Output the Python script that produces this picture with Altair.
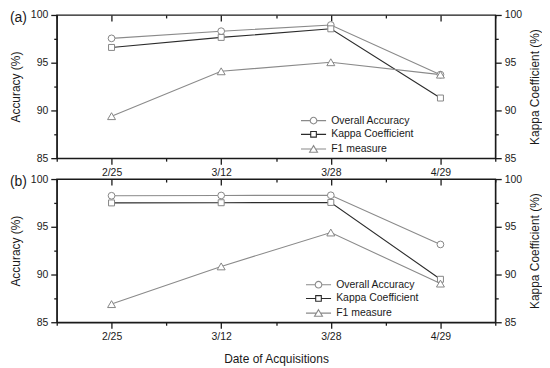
import json
import altair as alt
import pandas as pd

# ---------------- data ----------------
dates = ["2/25", "3/12", "3/28", "4/29"]
series_names = ["Overall Accuracy", "Kappa Coefficient", "F1 measure"]
panel_tags = ["(a)", "(b)"]

a_overall = [97.55, 98.3, 98.95, 93.75]
a_kappa = [96.6, 97.65, 98.55, 91.3]
a_f1 = [89.4, 94.1, 95.05, 93.75]

b_overall = [98.25, 98.28, 98.3, 93.15]
b_kappa = [97.5, 97.52, 97.55, 89.5]
b_f1 = [86.9, 90.85, 94.4, 89.05]

y_ticks = [85, 87.5, 90, 92.5, 95, 97.5, 100]
x_ticks = [0.5, 1, 1.5, 2, 2.5, 3, 3.5, 4, 4.5]

# ---------------- style ----------------
line_colors = ["#8a8a8a", "#2b2b2b", "#8a8a8a"]
marker_shapes = ["circle", "square", "triangle-up"]
marker_sizes = [46, 36, 64]
legend_paths = [
    "M-3.8,0H-1M1,0H3.8M1,0A1,1 0 1,1 -1,0A1,1 0 1,1 1,0",
    "M-3.8,0H-0.85M0.85,0H3.8M-0.85,-0.85H0.85V0.85H-0.85Z",
    "M-3.8,0H-0.6M0.6,0H3.8M0,-1.05L1.2,0.95H-1.2Z",
]
legend_x = [253, 258]
FONT = "Liberation Sans"
INK = "#1a1a1a"
MARK = "#858585"
W, H = 441, 144


def build(values):
    rows = []
    for name, vals in zip(series_names, values):
        for i, (d, v) in enumerate(zip(dates, vals)):
            rows.append({"pos": i + 1, "date": d, "series": name, "value": v})
    return pd.DataFrame(rows)


x_scale = alt.Scale(domain=[0.5, 4.5], nice=False, zero=False)
y_scale = alt.Scale(domain=[85, 100], nice=False, zero=False)
stroke_scale = alt.Scale(domain=series_names, range=line_colors)
shape_scale = alt.Scale(domain=series_names, range=legend_paths)

label_expr_x = "datum.value % 1 ? '' : " + json.dumps(dates) + "[datum.value - 1]"
label_expr_y = "datum.value % 5 ? '' : datum.label"
minor_x = {"condition": {"test": "datum.value % 1 != 0", "value": 3}, "value": 6}
minor_y = {"condition": {"test": "datum.value % 5 != 0", "value": 3}, "value": 6}


def bottom_axis(title):
    return alt.Axis(orient="bottom", values=x_ticks, labelExpr=label_expr_x, tickSize=minor_x,
                    grid=False, labelPadding=3, titlePadding=12, labelFlush=False,
                    labelOverlap=False, title=title)


top_axis = alt.Axis(orient="bottom", offset=-H, values=x_ticks, labels=False, domain=False,
                    tickSize=minor_x, title=None, grid=False)
left_axis = alt.Axis(orient="left", values=y_ticks, labelExpr=label_expr_y, tickSize=minor_y,
                     title="Accuracy (%)", grid=False, labelPadding=3, titlePadding=8,
                     labelFlush=False, labelOverlap=False)
right_axis = alt.Axis(orient="right", values=y_ticks, labelExpr=label_expr_y, tickSize=minor_y,
                      title="Kappa Coefficient (%)", titleAngle=270, titleBaseline="top",
                      grid=False, labelPadding=3, titlePadding=8, labelFlush=False,
                      labelOverlap=False)


def make_legend(lx):
    return alt.Legend(orient="none", legendX=lx, legendY=101, title=None,
                      labelFontSize=10.5, labelFont=FONT, labelColor=INK,
                      symbolSize=44, symbolStrokeWidth=1.1, labelOffset=12.5,
                      rowPadding=2.8, padding=0, symbolOpacity=1)


def panel(values, tag, xtitle, lx):
    df = build(values)
    base = alt.Chart(df)
    layers = []
    for i, name in enumerate(series_names):
        ln = base.transform_filter(alt.datum.series == name).mark_line(
            strokeWidth=1.1, color=line_colors[i]
        ).encode(
            x=alt.X("pos:Q", scale=x_scale, axis=bottom_axis(xtitle) if i == 0 else None),
            y=alt.Y("value:Q", scale=y_scale, axis=left_axis if i == 0 else None),
        )
        layers.append(ln)
    for i, name in enumerate(series_names):
        pts = base.transform_filter(alt.datum.series == name).mark_point(
            shape=marker_shapes[i], size=marker_sizes[i], filled=True, fill="white",
            stroke=MARK, strokeWidth=1, opacity=1,
        ).encode(
            x=alt.X("pos:Q", scale=x_scale, axis=top_axis if i == 0 else None),
            y=alt.Y("value:Q", scale=y_scale, axis=right_axis if i == 0 else None),
        )
        layers.append(pts)
    legend = make_legend(lx)
    leg = base.transform_filter("datum.value > 1000").mark_point(filled=False).encode(
        x=alt.X("pos:Q", scale=x_scale, axis=None),
        y=alt.Y("value:Q", scale=y_scale, axis=None),
        shape=alt.Shape("series:N", scale=shape_scale, legend=legend),
        stroke=alt.Stroke("series:N", scale=stroke_scale, legend=legend),
    )
    layers.append(leg)
    tag_layer = alt.Chart(pd.DataFrame({"tag": [tag]})).mark_text(
        align="right", baseline="middle", fontSize=14, font=FONT, color=INK
    ).encode(text="tag:N", x=alt.value(-30), y=alt.value(3))
    layers.append(tag_layer)
    return alt.layer(*layers).resolve_axis(x="independent", y="independent").properties(
        width=W, height=H)


pa = panel([a_overall, a_kappa, a_f1], panel_tags[0], None, legend_x[0])
pb = panel([b_overall, b_kappa, b_f1], panel_tags[1], "Date of Acquisitions", legend_x[1])

chart = alt.vconcat(pa, pb, spacing=21, bounds="flush").resolve_scale(
    stroke="independent", shape="independent"
).properties(padding=0).configure_view(
    stroke=INK, strokeWidth=1.3
).configure_axis(
    labelFont=FONT, titleFont=FONT, labelFontSize=10.5, titleFontSize=12,
    labelColor=INK, titleColor=INK, domainColor=INK, tickColor=INK,
    domainWidth=1.3, tickWidth=1.3, titleFontWeight="normal",
)

chart.save("out.html", embed_options={"renderer": "svg", "actions": False})
